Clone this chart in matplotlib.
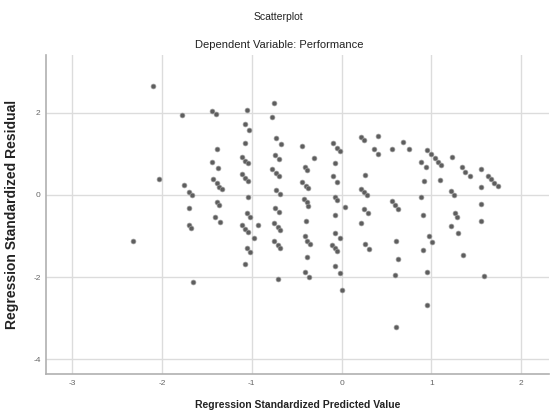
import numpy as np
import matplotlib
matplotlib.use('Agg')
import matplotlib.pyplot as plt

# standardized predicted value (x) and standardized residual (y)
pred = [
    -2.10, -2.03, -2.32, -1.78, -1.65,
    -1.75, -1.70, -1.67, -1.70, -1.70, -1.68,
    -1.44, -1.40, -1.39, -1.44, -1.38, -1.43, -1.39, -1.36, -1.33, -1.39, -1.36, -1.41, -1.35,
    -1.05, -1.08, -1.03, -1.07, -1.11, -1.07, -1.04, -1.11, -1.07, -1.04, -1.04, -1.05, -1.02,
    -1.11, -1.07, -1.04, -0.93, -0.98, -1.05, -1.02, -1.07,
    -0.75, -0.78, -0.73, -0.67, -0.74, -0.70, -0.77, -0.73, -0.70, -0.73, -0.69, -0.74, -0.70,
    -0.75, -0.71, -0.68, -0.75, -0.71, -0.68, -0.71,
    -0.44, -0.31, -0.41, -0.39, -0.44, -0.40, -0.37, -0.42, -0.39, -0.37, -0.40, -0.41, -0.38,
    -0.35, -0.38, -0.41, -0.36,
    -0.09, -0.05, -0.02, -0.07, -0.09, -0.05, -0.07, -0.05, 0.04, -0.07, -0.07, -0.02, -0.11,
    -0.07, -0.05, -0.07, -0.02, 0.00,
    0.22, 0.25, 0.41, 0.36, 0.41, 0.26, 0.22, 0.25, 0.28, 0.25, 0.30, 0.22, 0.26, 0.31,
    0.56, 0.68, 0.75, 0.56, 0.60, 0.63, 0.61, 0.63, 0.60, 0.61,
    0.95, 1.00, 1.04, 1.08, 1.11, 0.89, 0.94, 0.92, 1.10, 0.89, 0.91, 0.97, 1.01, 0.91, 0.95, 0.95,
    1.23, 1.34, 1.38, 1.43, 1.22, 1.25, 1.26, 1.29, 1.22, 1.30, 1.35,
    1.55, 1.55, 1.63, 1.67, 1.70, 1.74, 1.55, 1.55, 1.59,
]
resid = [
    2.65, 0.38, -1.11, 1.95, -2.13,
    0.23, 0.08, 0.00, -0.32, -0.73, -0.81,
    2.05, 1.96, 1.11, 0.81, 0.66, 0.39, 0.28, 0.20, 0.14, -0.16, -0.24, -0.53, -0.67,
    2.07, 1.72, 1.58, 1.27, 0.92, 0.83, 0.77, 0.50, 0.42, 0.34, -0.06, -0.45, -0.53,
    -0.73, -0.83, -0.91, -0.73, -1.04, -1.30, -1.39, -1.69,
    2.25, 1.89, 1.38, 1.23, 0.97, 0.88, 0.63, 0.54, 0.46, 0.12, 0.02, -0.31, -0.41,
    -0.69, -0.79, -0.85, -1.11, -1.22, -1.30, -2.04,
    1.18, 0.89, 0.69, 0.61, 0.32, 0.22, 0.16, -0.10, -0.18, -0.26, -0.63, -1.00, -1.11,
    -1.19, -1.50, -1.88, -1.99,
    1.26, 1.15, 1.07, 0.77, 0.45, 0.32, -0.04, -0.12, -0.30, -0.49, -0.93, -1.05, -1.22,
    -1.30, -1.36, -1.74, -1.91, -2.31,
    1.42, 1.34, 1.44, 1.12, 1.00, 0.49, 0.14, 0.07, 0.00, -0.34, -0.45, -0.69, -1.20, -1.31,
    1.12, 1.28, 1.12, -0.15, -0.24, -0.34, -1.12, -1.56, -1.95, -3.22,
    1.09, 0.99, 0.89, 0.81, 0.73, 0.80, 0.69, 0.34, 0.36, -0.04, -0.50, -1.01, -1.14, -1.34, -1.87, -2.69,
    0.93, 0.67, 0.57, 0.45, 0.09, 0.00, -0.43, -0.53, -0.75, -0.92, -1.46,
    0.63, 0.20, 0.47, 0.39, 0.30, 0.22, -0.22, -0.63, -1.98,
]

x_ticks = [-3, -2, -1, 0, 1, 2]
y_ticks = [-4, -2, 0, 2]

plt.rcParams['font.family'] = ['Liberation Sans Narrow', 'Liberation Sans', 'DejaVu Sans']

fig = plt.figure(figsize=(5.5, 4.16), dpi=100)
ax = fig.add_axes([0.084, 0.101, 0.914, 0.767])

# points
ax.scatter(pred, resid, s=12, c='#5e5e5e', edgecolors='#999999', linewidths=0.5, zorder=3)

ax.set_xlim(-3.29, 2.31)
ax.set_ylim(-4.36, 3.41)
ax.set_xticks(x_ticks)
ax.set_yticks(y_ticks)
ax.set_xticklabels([str(t) for t in x_ticks])
ax.set_yticklabels([str(t) for t in y_ticks])
ax.tick_params(length=0, labelsize=6, colors='#666666', pad=4)

ax.grid(True, color='#dcdcdc', linewidth=1.0, zorder=0)
for s in ['top', 'right']:
    ax.spines[s].set_visible(False)
for s in ['left', 'bottom']:
    ax.spines[s].set_color('#b0b0b0')
    ax.spines[s].set_linewidth(1.2)

fig.text(0.507, 0.958, 'Scatterplot', ha='center', va='center', fontsize=7.5, color='#222222')
fig.text(0.507, 0.893, 'Dependent Variable: Performance', ha='center', va='center', fontsize=8, color='#222222')
ax.set_xlabel('Regression Standardized Predicted Value', fontsize=7.5, fontweight='bold', color='#222222', labelpad=10)
ax.set_ylabel('Regression Standardized Residual', fontsize=10, fontweight='bold', color='#222222', labelpad=10)

fig.savefig('out.png', dpi=100)
